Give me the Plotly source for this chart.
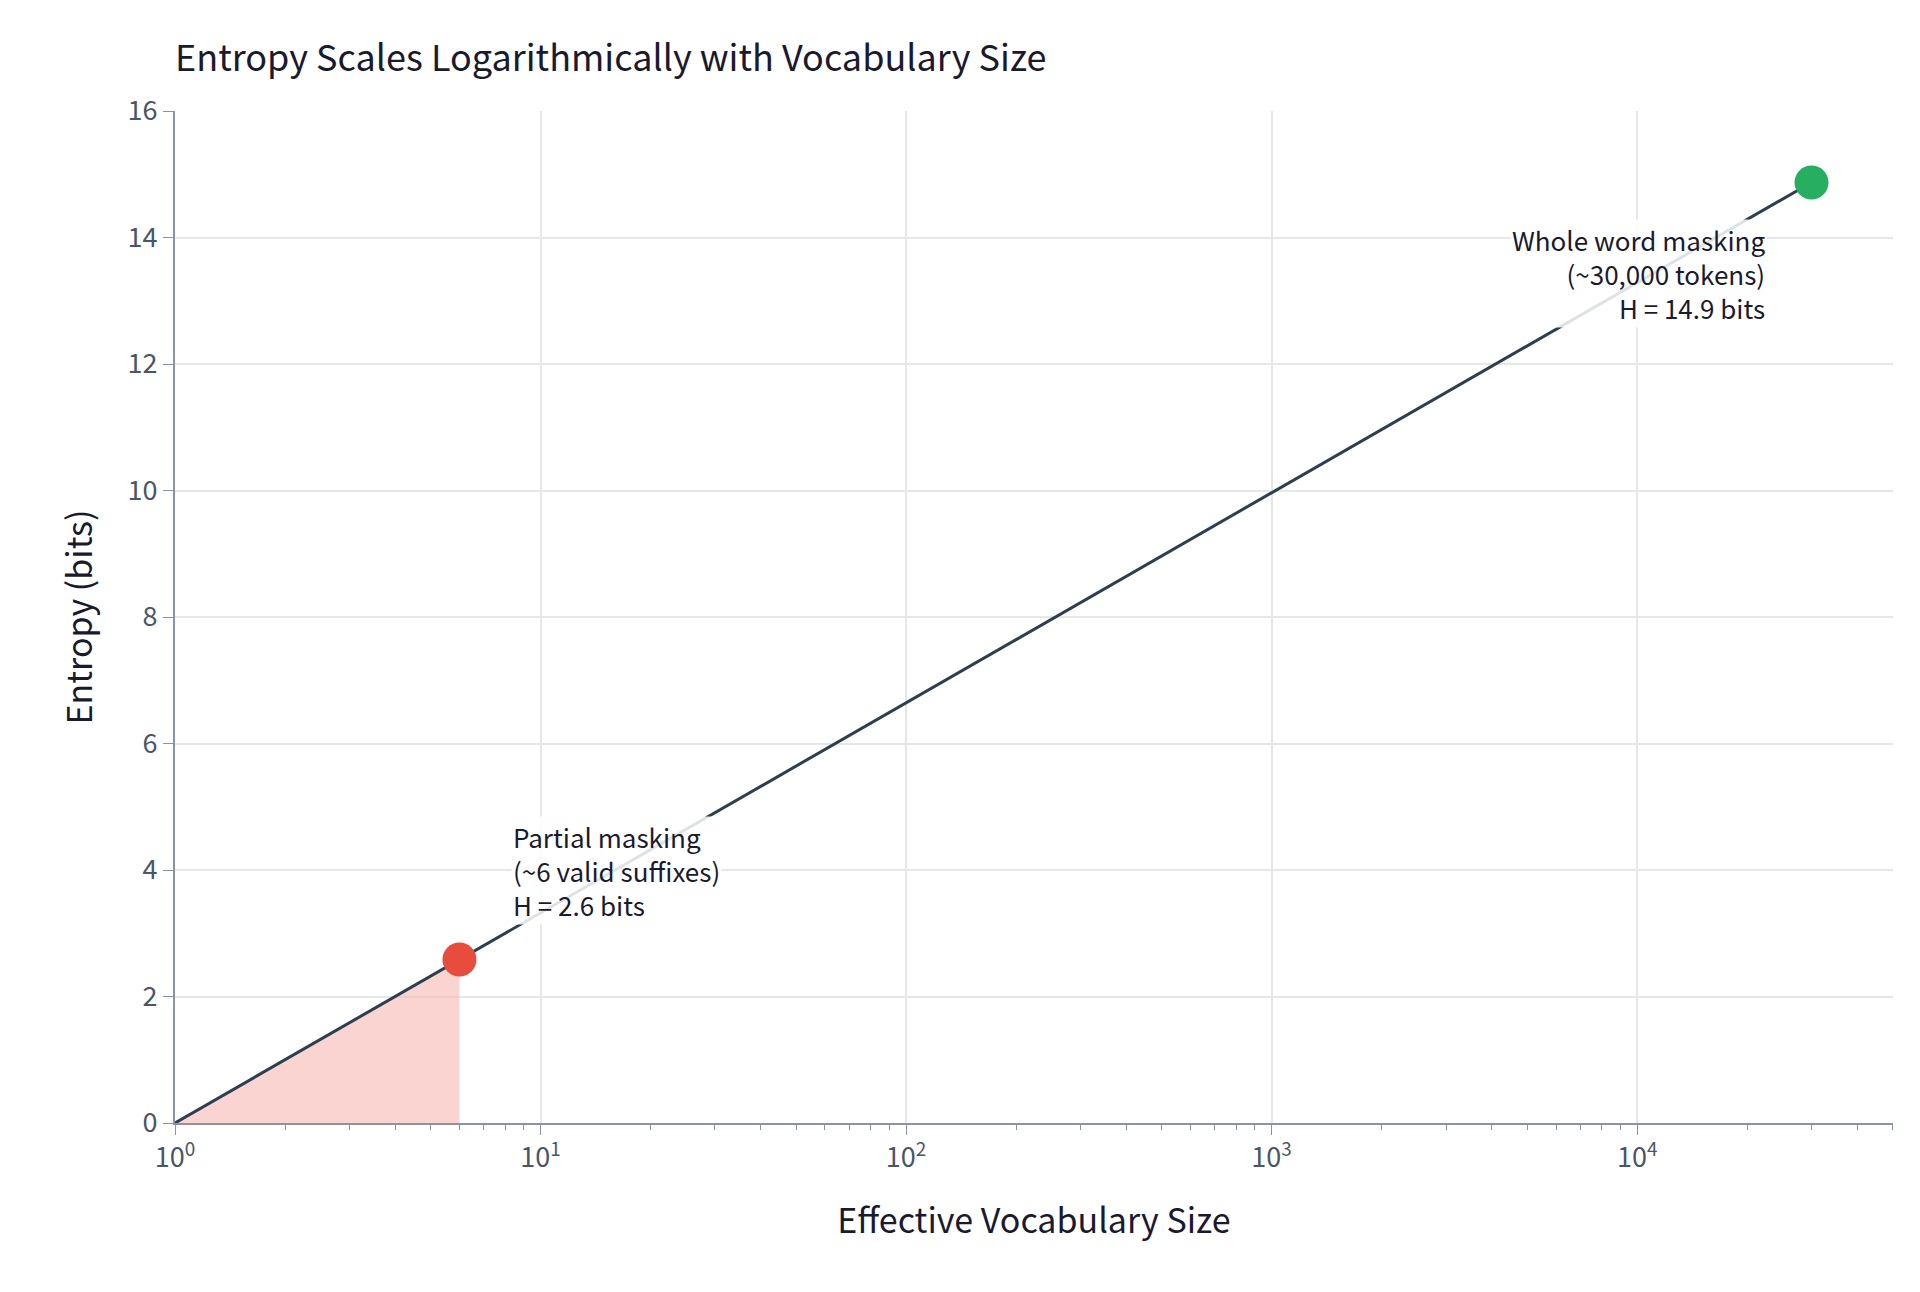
import plotly.graph_objects as go

line_x = [1, 30000]
line_y = [0, 14.87]
fill_x = [1, 6]
fill_y = [0, 2.585]
pt_x = [6, 30000]
pt_y = [2.585, 14.87]
pt_colors = ["#e74c3c", "#27ae60"]
xtick_vals = [1, 10, 100, 1000, 10000]
xtick_text = ["10<sup>0</sup>", "10<sup>1</sup>", "10<sup>2</sup>", "10<sup>3</sup>", "10<sup>4</sup>"]
ytick_vals = [0, 2, 4, 6, 8, 10, 12, 14, 16]

font = '"Noto Sans CJK KR", "Noto Sans", sans-serif'
fig = go.Figure()
fig.add_trace(go.Scatter(x=fill_x, y=fill_y, mode="lines", line=dict(width=0),
                         fill="tozeroy", fillcolor="rgba(245,183,177,0.6)", hoverinfo="skip"))
fig.add_trace(go.Scatter(x=line_x, y=line_y, mode="lines", line=dict(color="#2c3e50", width=3)))
fig.add_trace(go.Scatter(x=pt_x, y=pt_y, mode="markers", marker=dict(color=pt_colors, size=34)))

fig.add_annotation(x=0.92, y=4.85, xref="x", yref="y", xanchor="left", yanchor="top", align="left",
                   text="Partial masking<br>(~6 valid suffixes)<br>H = 2.6 bits", showarrow=False,
                   bgcolor="rgba(255,255,255,0.85)", font=dict(size=26, color="#1a1a2e", family=font))
fig.add_annotation(x=4.356, y=14.3, xref="x", yref="y", xanchor="right", yanchor="top", align="right",
                   text="Whole word masking<br>(~30,000 tokens)<br>H = 14.9 bits", showarrow=False,
                   bgcolor="rgba(255,255,255,0.85)", font=dict(size=26, color="#1a1a2e", family=font))

fig.update_layout(
    width=1920, height=1292, showlegend=False,
    plot_bgcolor="white", paper_bgcolor="white",
    margin=dict(l=167, r=35, t=103, b=177),
    font=dict(family=font, color="#4a5568"),
    title=dict(text="Entropy Scales Logarithmically with Vocabulary Size", x=167/1920, xanchor="left",
               y=1-50/1292, yanchor="middle", font=dict(size=36, color="#1a1a2e")),
    xaxis=dict(type="log", range=[0, 4.70], tickvals=xtick_vals, ticktext=xtick_text,
               showgrid=True, gridcolor="#e5e7eb", gridwidth=2, showline=True, linecolor="#8a94a6", linewidth=2,
               ticks="outside", ticklen=10, tickcolor="#8a94a6",
               minor=dict(ticks="outside", ticklen=5, tickcolor="#8a94a6", showgrid=False, dtick="D1"),
               tickfont=dict(size=27), zeroline=False,
               title=dict(text="Effective Vocabulary Size", font=dict(size=34, color="#1a1a2e"), standoff=35)),
    yaxis=dict(range=[0, 16], tickvals=ytick_vals, showgrid=True, gridcolor="#e5e7eb", gridwidth=2,
               showline=True, linecolor="#8a94a6", linewidth=2, ticks="outside", ticklen=10,
               tickcolor="#8a94a6", tickfont=dict(size=27), zeroline=False,
               title=dict(text="Entropy (bits)", font=dict(size=34, color="#1a1a2e"), standoff=25)),
)
fig.write_html("out.html")
